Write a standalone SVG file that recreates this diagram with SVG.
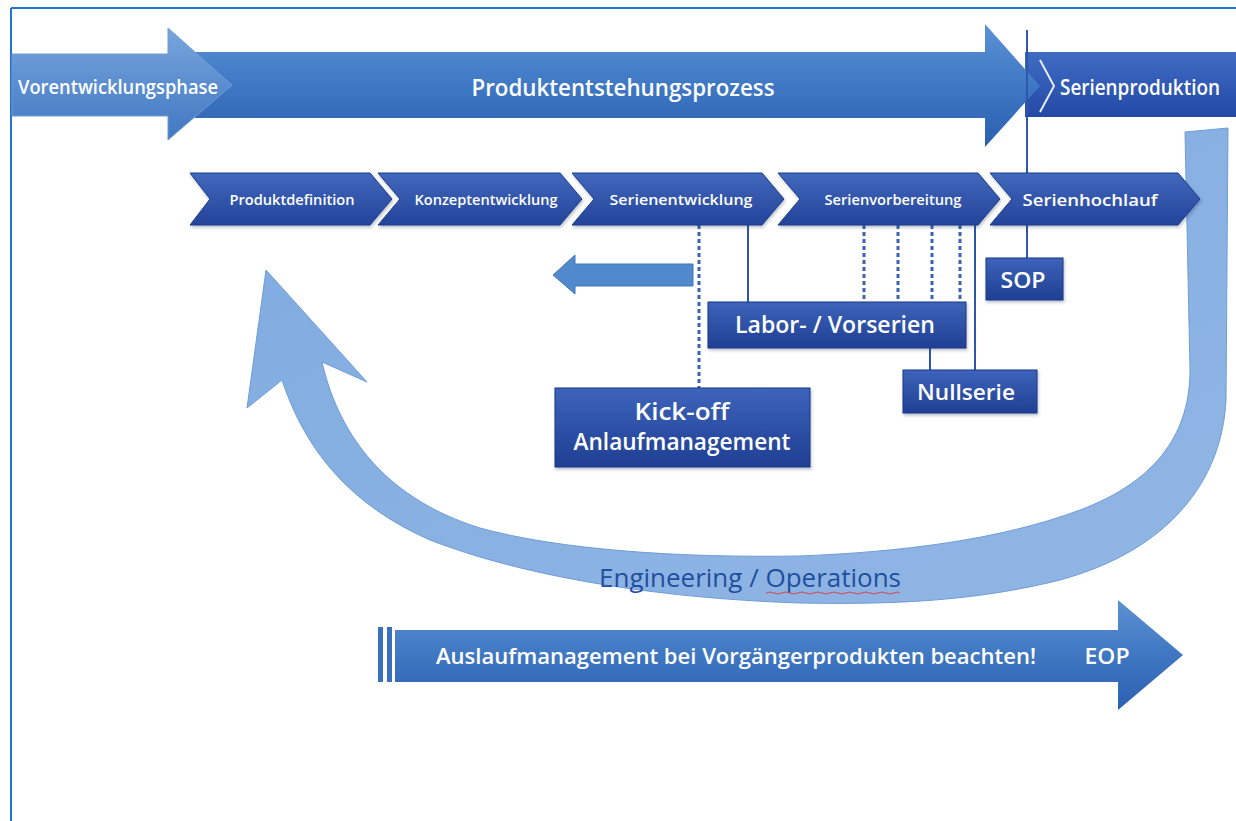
<svg xmlns="http://www.w3.org/2000/svg" width="1236" height="821" viewBox="0 0 1236 821">
<style>
.t{font-family:"Open Sans","Liberation Sans",sans-serif;fill:#fff;text-anchor:middle;font-weight:600}
.dot{stroke:#3d62b4;stroke-width:3;stroke-dasharray:4 3;fill:none}
.sol{stroke:#2f56aa;stroke-width:2;fill:none}
.box{fill:url(#gBox);stroke:#1c3784;stroke-width:1;filter:url(#sh)}
.chev{fill:url(#gChev);stroke:#1d3c8c;stroke-width:1;filter:url(#sh)}
</style>
<defs>
<linearGradient id="gLight" x1="0" y1="0" x2="0" y2="1"><stop offset="0" stop-color="#7aa6dc"/><stop offset="0.5" stop-color="#5b8ed0"/><stop offset="1" stop-color="#4178c0"/></linearGradient>
<linearGradient id="gMid" x1="0" y1="0" x2="0" y2="1"><stop offset="0" stop-color="#5d92d4"/><stop offset="0.5" stop-color="#3e78c4"/><stop offset="1" stop-color="#2c5fb0"/></linearGradient>
<linearGradient id="gDark" x1="0" y1="0" x2="0" y2="1"><stop offset="0" stop-color="#3f6cc4"/><stop offset="1" stop-color="#2349a4"/></linearGradient>
<linearGradient id="gChev" x1="0" y1="0" x2="0" y2="1"><stop offset="0" stop-color="#4168bc"/><stop offset="1" stop-color="#23449a"/></linearGradient>
<linearGradient id="gBox" x1="0" y1="0" x2="0" y2="1"><stop offset="0" stop-color="#3c64ba"/><stop offset="1" stop-color="#1f3f93"/></linearGradient>
<linearGradient id="gCurve" x1="0" y1="0" x2="1" y2="1"><stop offset="0" stop-color="#80abe0"/><stop offset="1" stop-color="#90b6e4"/></linearGradient>
<linearGradient id="gBottom" x1="0" y1="0" x2="0" y2="1"><stop offset="0" stop-color="#5c90d2"/><stop offset="0.5" stop-color="#3f77c2"/><stop offset="1" stop-color="#2d60b2"/></linearGradient>
<filter id="sh" x="-10%" y="-20%" width="120%" height="150%"><feDropShadow dx="1" dy="2" stdDeviation="1.5" flood-color="#1a2a55" flood-opacity="0.3"/></filter>
</defs>
<rect width="1236" height="821" fill="#fff"/>
<g id="border" stroke="#1f74d0" stroke-width="2" fill="none">
<line x1="11" y1="8" x2="1236" y2="8"/>
<line x1="11" y1="8" x2="11" y2="821"/>
</g>

<g id="serienproduktion">
<polygon points="1025,52 1236,52 1236,117 1025,117" fill="url(#gDark)"/>
<text class="t" x="1140" y="95" font-size="21" textLength="160" lengthAdjust="spacingAndGlyphs">Serienproduktion</text>
</g>
<g id="pep">
<polygon points="195,52 985,52 985,24 1040,86 985,147 985,118 195,118" fill="url(#gMid)"/>
<polyline points="1040,60 1054,86 1040,112" fill="none" stroke="#e3ecf8" stroke-width="2"/>
<text class="t" x="623" y="96" font-size="24" textLength="303" lengthAdjust="spacingAndGlyphs">Produktentstehungsprozess</text>
</g>
<g id="vorentwicklung">
<polygon points="12,54 168,54 168,28 232,85 168,140 168,116 12,116" fill="url(#gLight)" stroke="#6f9bd4" stroke-width="1"/>
<text class="t" x="118" y="94" font-size="20" textLength="200" lengthAdjust="spacingAndGlyphs">Vorentwicklungsphase</text>
</g>

<g id="curve">
<path d="M1185,132 L1228,128 L1226,400 C1222,480 1170,550 1060,580 C980,600 900,605 800,603 C650,598 520,575 430,540 C350,505 305,450 282,380 L247,408 L266,270 L367,382 L322,362 C340,440 390,500 480,528 C560,550 680,558 800,556 C900,552 1000,540 1080,510 C1160,480 1190,430 1190,370 Z" fill="url(#gCurve)" stroke="#6f9dd6" stroke-width="1"/>
<text x="750" y="587" font-family="Open Sans, Liberation Sans, sans-serif" font-size="26" fill="#1f4f9e" text-anchor="middle" textLength="302" lengthAdjust="spacingAndGlyphs">Engineering / Operations</text>
<path d="M766,593 q4,-2 8,0 t8,0 t8,0 t8,0 t8,0 t8,0 t8,0 t8,0 t8,0 t8,0 t8,0 t8,0 t8,0 t8,0 t8,0 t8,0 t6,0" fill="none" stroke="#d8444c" stroke-width="1"/>
</g>

<g id="connectors">
<line class="sol" x1="1027" y1="30" x2="1027" y2="258"/>
<line class="dot" x1="699" y1="225" x2="699" y2="388"/>
<line class="sol" x1="748" y1="225" x2="748" y2="302"/>
<line class="dot" x1="864" y1="225" x2="864" y2="300"/>
<line class="dot" x1="898" y1="225" x2="898" y2="300"/>
<line class="dot" x1="932" y1="225" x2="932" y2="300"/>
<line class="dot" x1="960" y1="225" x2="960" y2="300"/>
<line class="sol" x1="975" y1="225" x2="975" y2="370"/>
<line class="sol" x1="930" y1="348" x2="930" y2="370"/>
<polygon points="693,264 575,264 575,255 553,275 575,294 575,286 693,286" fill="#5089cc" stroke="#3f77c0" stroke-width="1"/>
</g>

<g id="c1"><polygon class="chev" points="190,173 370,173 392,199 370,225 190,225 210,199"/><text class="t" x="292" y="205" font-size="15" textLength="125" lengthAdjust="spacingAndGlyphs">Produktdefinition</text></g>
<g id="c2"><polygon class="chev" points="378,173 560,173 582,199 560,225 378,225 400,199"/><text class="t" x="486" y="205" font-size="15" textLength="143" lengthAdjust="spacingAndGlyphs">Konzeptentwicklung</text></g>
<g id="c3"><polygon class="chev" points="572,173 762,173 784,199 762,225 572,225 594,199"/><text class="t" x="681" y="205" font-size="15" textLength="143" lengthAdjust="spacingAndGlyphs">Serienentwicklung</text></g>
<g id="c4"><polygon class="chev" points="778,173 978,173 1000,199 978,225 778,225 800,199"/><text class="t" x="893" y="205" font-size="15" textLength="137" lengthAdjust="spacingAndGlyphs">Serienvorbereitung</text></g>
<g id="c5"><polygon class="chev" points="990,173 1178,173 1200,199 1178,225 990,225 1012,199"/><text class="t" x="1090" y="206" font-size="17" textLength="135" lengthAdjust="spacingAndGlyphs">Serienhochlauf</text></g>

<g id="sop"><rect class="box" x="986" y="258" width="77" height="42"/><text class="t" x="1023" y="288" font-size="22" textLength="45" lengthAdjust="spacingAndGlyphs">SOP</text></g>
<g id="labor"><rect class="box" x="708" y="302" width="258" height="46"/><text class="t" x="835" y="333" font-size="23" textLength="200" lengthAdjust="spacingAndGlyphs">Labor- / Vorserien</text></g>
<g id="nullserie"><rect class="box" x="903" y="370" width="134" height="43"/><text class="t" x="966" y="400" font-size="22" textLength="98" lengthAdjust="spacingAndGlyphs">Nullserie</text></g>
<g id="kickoff"><rect class="box" x="555" y="388" width="255" height="79"/><text class="t" x="682" y="420" font-size="24" textLength="95" lengthAdjust="spacingAndGlyphs">Kick-off</text><text class="t" x="682" y="450" font-size="24" textLength="217" lengthAdjust="spacingAndGlyphs">Anlaufmanagement</text></g>

<g id="auslauf">
<rect x="378" y="627" width="5" height="55" fill="#3a6fbd"/>
<rect x="387" y="627" width="5" height="55" fill="#3a6fbd"/>
<polygon points="395,630 1118,630 1118,600 1183,655 1118,710 1118,682 395,682" fill="url(#gBottom)"/>
<text class="t" x="736" y="664" font-size="22" textLength="600" lengthAdjust="spacingAndGlyphs">Auslaufmanagement bei Vorgängerprodukten beachten!</text>
<text class="t" x="1107" y="664" font-size="22" textLength="45" lengthAdjust="spacingAndGlyphs">EOP</text>
</g>
</svg>
